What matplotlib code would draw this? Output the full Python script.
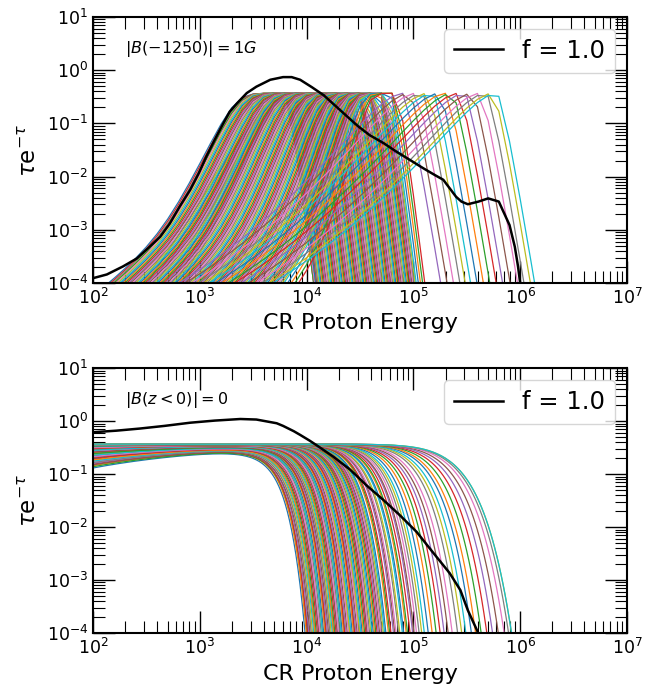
"""Recreate the two-panel tau*exp(-tau) vs CR proton energy figure."""

import matplotlib

matplotlib.use("Agg")
import matplotlib.pyplot as plt
import numpy as np
from matplotlib.ticker import LogLocator


# --- top panel: |B(-1250)| = 1G -------------------------------------------
# log10 of the energy where each field line leaves its tau ~ 1 plateau
MAIN_PEAK_LOG_E = [
    3.80, 3.81, 3.82, 3.83, 3.83, 3.84, 3.85, 3.86, 3.87, 3.88,
    3.89, 3.90, 3.91, 3.92, 3.93, 3.94, 3.95, 3.96, 3.97, 3.98,
    3.99, 4.00, 4.01, 4.02, 4.03, 4.04, 4.05, 4.06, 4.07, 4.08,
    4.09, 4.10, 4.11, 4.12, 4.13, 4.14, 4.15, 4.16, 4.17, 4.18,
    4.19, 4.20, 4.21, 4.22, 4.23, 4.24, 4.25, 4.26, 4.27, 4.28,
    4.29, 4.30, 4.31, 4.32, 4.33, 4.34, 4.35, 4.36, 4.37, 4.38,
    4.39, 4.40, 4.41, 4.42, 4.43, 4.44, 4.45, 4.46, 4.47, 4.48,
    4.49, 4.50, 4.51, 4.52, 4.53, 4.54, 4.55, 4.56, 4.57, 4.58,
    4.59, 4.60, 4.61, 4.62, 4.63, 4.64, 4.65, 4.66, 4.67, 4.68,
    4.69, 4.70, 4.71, 4.72, 4.73, 4.74, 4.75, 4.76, 4.78, 4.80,
    4.82, 4.84,
]
# field lines with a sharp peak near 7e3
FAN_PEAK_LOG_E = [3.80, 3.80, 3.81, 3.81, 3.81, 3.82, 3.82, 3.82, 3.83, 3.83, 3.83, 3.84]
FAN_RISE = [3.0, 3.1, 3.2, 3.3, 3.4, 3.5, 3.6, 3.7, 3.8, 3.9, 4.0, 4.1]
# sharp-peaked field lines at high energy
LATE_PEAK_LOG_E = [
    4.90, 4.96, 5.02, 5.08, 5.13, 5.18, 5.24, 5.30,
    5.36, 5.42, 5.48, 5.55, 5.62, 5.68, 5.74, 5.78,
]
# (rise slope, rise bend, tau growth per dex) of the sharp-peaked lines
FAN_SHAPE = (0.0, 40.0)
LATE_SHAPE = (2.6, 0.33, 30.0)

TOP_BLACK_LOG_E = [
    2.00, 2.13, 2.28, 2.41, 2.53, 2.63, 2.72, 2.81, 2.91, 2.99, 3.06, 3.14,
    3.22, 3.28, 3.35, 3.44, 3.53, 3.66, 3.78, 3.86, 3.94, 4.05, 4.16, 4.27,
    4.38, 4.48, 4.59, 4.72, 4.84, 4.97, 5.09, 5.20, 5.28, 5.34, 5.40, 5.45,
    5.51, 5.61, 5.70, 5.80, 5.90, 5.95, 5.98, 6.00, 6.02,
]
TOP_BLACK_LOG_V = [
    -3.91, -3.84, -3.69, -3.54, -3.32, -3.13, -2.88, -2.57, -2.25, -1.94, -1.63, -1.31,
    -1.00, -0.78, -0.62, -0.43, -0.31, -0.18, -0.13, -0.13, -0.18, -0.32, -0.47, -0.67,
    -0.87, -1.05, -1.22, -1.37, -1.53, -1.69, -1.84, -1.97, -2.06, -2.22, -2.38, -2.47,
    -2.52, -2.47, -2.41, -2.47, -2.91, -3.32, -3.69, -4.00, -4.40,
]

# --- bottom panel: |B(z<0)| = 0 ---------------------------------------------
# log10 of the cutoff energy of each field line
BOT_LOG_CUT = [
    3.58, 3.59, 3.60, 3.60, 3.61, 3.62, 3.63, 3.63, 3.64, 3.65,
    3.66, 3.66, 3.67, 3.68, 3.69, 3.69, 3.70, 3.71, 3.72, 3.72,
    3.73, 3.74, 3.75, 3.75, 3.76, 3.77, 3.78, 3.78, 3.79, 3.80,
    3.81, 3.81, 3.82, 3.83, 3.84, 3.84, 3.85, 3.86, 3.87, 3.87,
    3.88, 3.89, 3.90, 3.90, 3.91, 3.92, 3.93, 3.94, 3.94, 3.95,
    3.96, 3.97, 3.98, 3.98, 3.99, 4.00, 4.01, 4.02, 4.02, 4.03,
    4.04, 4.05, 4.06, 4.07, 4.08, 4.08, 4.09, 4.10, 4.11, 4.12,
    4.13, 4.14, 4.15, 4.16, 4.17, 4.18, 4.19, 4.20, 4.21, 4.22,
    4.23, 4.25, 4.26, 4.27, 4.29, 4.30, 4.31, 4.33, 4.34, 4.36,
    4.37, 4.39, 4.40, 4.42, 4.44, 4.45, 4.47, 4.49, 4.51, 4.53,
    4.56, 4.59, 4.62, 4.65, 4.68, 4.71, 4.74, 4.78, 4.81, 4.84,
    4.88, 4.91, 4.95, 4.99, 5.03, 5.07, 5.11, 5.14, 5.16, 5.16,
]
# tau at 100 for the first field lines; the rest start at tau = 1
BOT_TAU0 = [
    3.20, 3.05, 3.12, 2.95, 2.90, 3.00, 2.80, 2.85, 2.70, 2.75,
    2.60, 2.66, 2.50, 2.55, 2.45, 2.38, 2.42, 2.30, 2.25, 2.33,
    2.18, 2.12, 2.20, 2.05, 2.00, 2.08, 1.95, 1.90, 1.85, 1.92,
    1.80, 1.76, 1.70, 1.74, 1.65, 1.60, 1.66, 1.55, 1.50, 1.52,
    1.45, 1.40, 1.44, 1.36, 1.32, 1.30, 1.27, 1.24, 1.22, 1.20,
    1.18, 1.16, 1.14, 1.12, 1.10, 1.10, 1.08, 1.06, 1.05, 1.04,
    1.03, 1.02, 1.04, 1.01, 1.02, 1.00, 1.03, 1.01, 1.00, 1.02,
]

BOT_BLACK_LOG_E = [
    2.00, 2.22, 2.44, 2.67, 2.91, 3.14, 3.38, 3.53, 3.72, 3.78, 3.88, 3.94,
    4.03, 4.09, 4.25, 4.41, 4.56, 4.72, 4.87, 5.03, 5.18, 5.34, 5.44, 5.51,
    5.61, 5.63,
]
BOT_BLACK_LOG_V = [
    -0.21, -0.18, -0.14, -0.09, -0.03, 0.01, 0.04, 0.03, -0.04, -0.09, -0.19, -0.26,
    -0.37, -0.45, -0.67, -0.92, -1.21, -1.49, -1.77, -2.09, -2.47, -2.87, -3.19, -3.57,
    -4.01, -4.30,
]


def main() -> int:
    fig = plt.figure(figsize=(6.52, 6.88), dpi=100)
    ax_top = fig.add_axes([0.1426, 0.5887, 0.819, 0.3866])
    ax_bot = fig.add_axes([0.1426, 0.0799, 0.819, 0.385])

    _plot_top(ax_top)
    _plot_bottom(ax_bot)
    _style_axis(ax_top, r"$|B(-1250)| = 1G$")
    _style_axis(ax_bot, r"$|B(z<0)| = 0$")

    fig.savefig("out.png", dpi=100)
    plt.close(fig)
    return 0


def _plateau_tau(log_e, log_peak):
    # flat tau ~ 1 top, steep rise below it, shallow low-energy tail;
    # lines that leave the plateau later rise over a narrower range
    u = log_e - log_peak
    scale = 1.0 - 0.43 * (log_peak - 3.80)
    below = np.clip(-u, 0.0, None) / scale
    knee = 0.08 * np.logaddexp(0.0, (below - 0.37) / 0.08)
    left = 10.0 ** (-4.2 * knee) + 10.0 ** (-3.1 - 1.6 * (below - 1.08))
    right = 1.0 + 40.0 * np.clip(u, 0.0, None)
    return np.where(u < 0, left, right)


def _peaked_tau(log_e, log_peak, rise, bend, growth):
    u = log_e - log_peak
    if bend > 0:
        u_left = np.maximum(u, -rise / (2.0 * bend))
    else:
        u_left = u
    left = 10.0 ** (rise * u_left + bend * u_left**2)
    right = 1.0 + growth * np.clip(u, 0.0, None)
    return np.where(u < 0, left, right)


def _plot_top(ax):
    energy = np.logspace(2, 7, 51)
    log_e = np.log10(energy)
    curves = []
    for peak in MAIN_PEAK_LOG_E:
        curves.append((peak, _plateau_tau(log_e, peak)))
    for peak, rise in zip(FAN_PEAK_LOG_E, FAN_RISE):
        curves.append((peak, _peaked_tau(log_e, peak, rise, *FAN_SHAPE)))
    for peak in LATE_PEAK_LOG_E:
        curves.append((peak, _peaked_tau(log_e, peak, *LATE_SHAPE)))
    curves.sort(key=lambda item: item[0])
    with np.errstate(over="ignore", under="ignore"):
        for _, tau in curves:
            ax.plot(energy, tau * np.exp(-tau), linewidth=0.9)
    ax.plot(
        10.0 ** np.array(TOP_BLACK_LOG_E),
        10.0 ** np.array(TOP_BLACK_LOG_V),
        color="black",
        linewidth=1.8,
        label="f = 1.0",
        zorder=5,
    )


def _plot_bottom(ax):
    energy = np.logspace(2, 7, 251)
    for i, log_cut in enumerate(BOT_LOG_CUT):
        tau0 = BOT_TAU0[i] if i < len(BOT_TAU0) else 1.0
        steep = 2.46 - 0.70 * (log_cut - 3.58)
        tau = 1.0 + (tau0 - 1.0) * (energy / 100.0) ** -0.25 + (energy / 10.0**log_cut) ** steep
        ax.plot(energy, tau * np.exp(-tau), linewidth=0.9)
    ax.plot(
        10.0 ** np.array(BOT_BLACK_LOG_E),
        10.0 ** np.array(BOT_BLACK_LOG_V),
        color="black",
        linewidth=1.8,
        label="f = 1.0",
        zorder=5,
    )


def _style_axis(ax, note):
    ax.set_xscale("log")
    ax.set_yscale("log")
    ax.set_xlim(1e2, 1e7)
    ax.set_ylim(1e-4, 1e1)
    ax.xaxis.set_major_locator(LogLocator(base=10, numticks=10))
    ax.yaxis.set_major_locator(LogLocator(base=10, numticks=10))
    ax.xaxis.set_minor_locator(LogLocator(base=10, subs=np.arange(2, 10), numticks=12))
    ax.yaxis.set_minor_locator(LogLocator(base=10, subs=np.arange(2, 10), numticks=12))
    ax.tick_params(which="both", direction="in", top=True, right=True)
    ax.tick_params(which="major", length=15.5, width=1.0, labelsize=12.5)
    ax.tick_params(which="minor", length=8.5, width=0.8)
    for spine in ax.spines.values():
        spine.set_linewidth(1.5)
    ax.set_xlabel("CR Proton Energy", fontsize=16)
    ax.set_ylabel(r"$\tau$e$^{-\tau}$", fontsize=16.5)
    ax.legend(loc="upper right", fontsize=17.5)
    ax.text(0.06, 0.88, note, transform=ax.transAxes, fontsize=11.5, va="center")


if __name__ == "__main__":
    raise SystemExit(main())
